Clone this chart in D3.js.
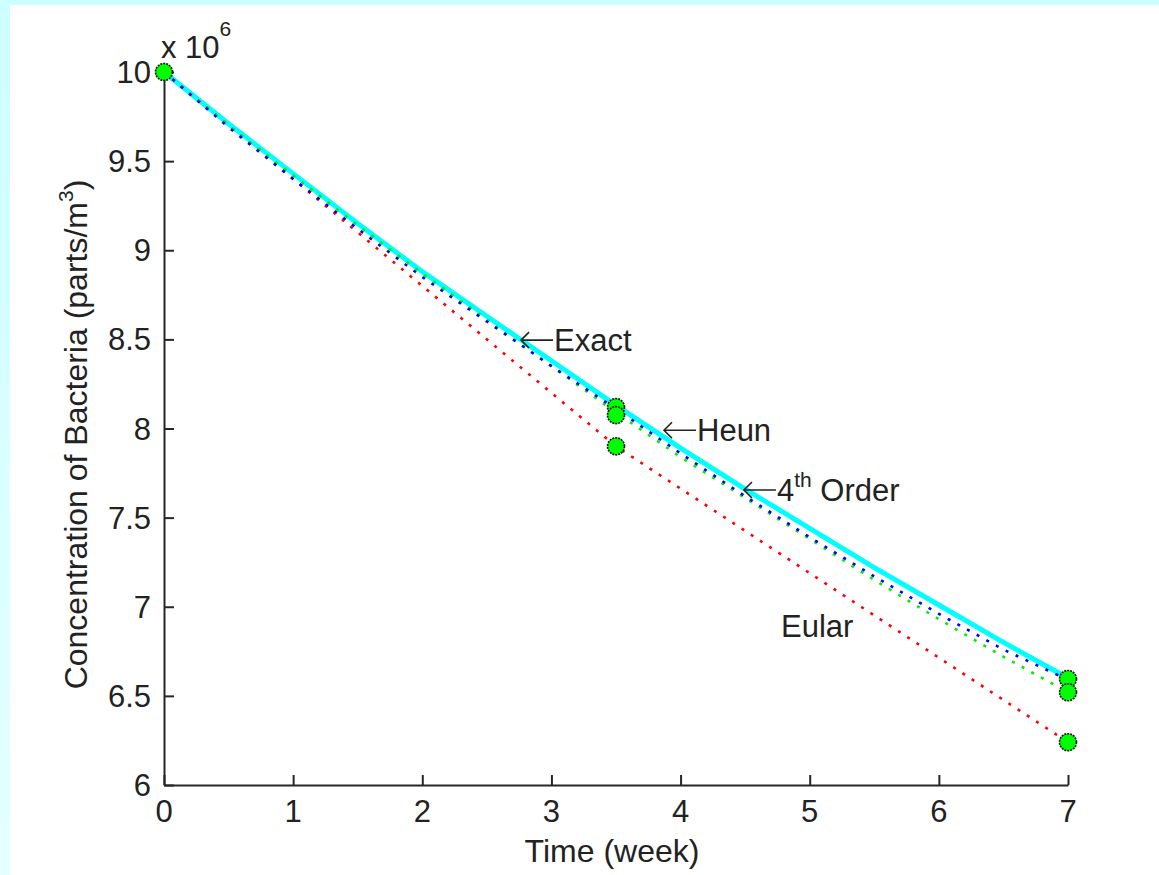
<!DOCTYPE html>
<html>
<head>
<meta charset="utf-8">
<style>
  *{margin:0;padding:0;box-sizing:border-box}
  body{width:1159px;height:875px;overflow:hidden;background:#fff}
  svg{display:block}
  text{font-family:"Liberation Sans",Arial,sans-serif;fill:#222}
</style>
</head>
<body>
<svg id="g"></svg>
<script src="https://cdn.jsdelivr.net/npm/d3@7/dist/d3.min.js"></script>
<script>
// values in units of 1e6 parts/m^3, time in weeks
const tFine   = [0, 0.5, 1, 1.5, 2, 2.5, 3, 3.5, 4, 4.5, 5, 5.5, 6, 6.5, 7];
const exact   = [10, 9.71, 9.43, 9.15, 8.88, 8.63, 8.38, 8.13, 7.89, 7.66, 7.44, 7.22, 7.01, 6.80, 6.60];
const order4  = [10, 9.69, 9.40, 9.12, 8.85, 8.60, 8.35, 8.11, 7.86, 7.62, 7.39, 7.17, 6.96, 6.76, 6.59];
const heun    = [10, 9.70, 9.42, 9.14, 8.87, 8.61, 8.35, 8.09, 7.84, 7.61, 7.38, 7.15, 6.93, 6.72, 6.52];
const tStep   = [0, 3.5, 7];
const euler   = [10, 7.90, 6.24];
// step results shown as markers
const markT   = [0, 3.5, 3.5, 3.5, 7, 7, 7];
const markV   = [10, 8.12, 8.075, 7.90, 6.595, 6.52, 6.24];
const xTicks  = [0, 1, 2, 3, 4, 5, 6, 7];
const yTicks  = [6, 6.5, 7, 7.5, 8, 8.5, 9, 9.5, 10];
// annotations: [t, value, arrow?, text, superscript, tail]
const notes = [
  [2.757, 8.496, true,  'Exact', '', ''],
  [3.864, 7.990, true,  'Heun', '', ''],
  [4.483, 7.655, true,  '4', 'th', ' Order'],
  [4.778, 6.890, false, 'Eular', '', '']
];

const W = 1159, H = 875;
const FS = 31;
const svg = d3.select('#g').attr('width', W).attr('height', H);

// light cyan frame
const defs = svg.append('defs');
const grad = defs.append('linearGradient').attr('id', 'bg').attr('x1', 0).attr('y1', 0).attr('x2', 0).attr('y2', 1);
grad.append('stop').attr('offset', '0%').attr('stop-color', '#ccffff');
grad.append('stop').attr('offset', '100%').attr('stop-color', '#e4ffff');
svg.append('rect').attr('width', W).attr('height', H).attr('fill', 'url(#bg)');
svg.append('rect').attr('x', 10).attr('y', 5).attr('width', W - 10).attr('height', H - 5).attr('fill', '#fff');

const x = d3.scaleLinear().domain([0, 7]).range([164, 1068]);
const y = d3.scaleLinear().domain([6, 10]).range([785, 72]);

// axes (ticks pointing inward, no box)
const gx = svg.append('g').attr('transform', `translate(0,${y(6)})`)
  .call(d3.axisTop(x).tickValues(xTicks).tickSize(10).tickSizeOuter(0).tickFormat(''));
const gy = svg.append('g').attr('transform', `translate(${x(0)},0)`)
  .call(d3.axisRight(y).tickValues(yTicks).tickSize(10).tickSizeOuter(0).tickFormat(''));
[gx, gy].forEach(g => {
  g.select('.domain').attr('stroke', '#262626').attr('stroke-width', 2);
  g.selectAll('.tick line').attr('stroke', '#262626').attr('stroke-width', 2);
});

svg.append('g').selectAll('text').data(xTicks).enter().append('text')
  .attr('x', d => x(d)).attr('y', 822).attr('text-anchor', 'middle')
  .attr('font-size', FS).text(d => d);
svg.append('g').selectAll('text').data(yTicks).enter().append('text')
  .attr('x', 151).attr('y', d => y(d) + 11).attr('text-anchor', 'end')
  .attr('font-size', FS).text(d => d);

// exponent label
const ex = svg.append('text').attr('x', 161).attr('y', 58).attr('font-size', FS);
ex.append('tspan').text('x 10');
ex.append('tspan').attr('font-size', 21).attr('dy', -22).text('6');

// axis titles
svg.append('text').attr('x', x(3.5) - 4).attr('y', 862).attr('text-anchor', 'middle')
  .attr('font-size', 32).text('Time (week)');
const yl = svg.append('text').attr('transform', `translate(87,${(y(6) + y(10)) / 2 + 6}) rotate(-90)`)
  .attr('text-anchor', 'middle').attr('font-size', 32);
yl.append('tspan').text('Concentration of Bacteria (parts/m');
yl.append('tspan').attr('font-size', 21).attr('dy', -14).text('3');
yl.append('tspan').attr('dy', 14).text(')');

// curves
const line = d3.line().x(d => x(d[0])).y(d => y(d[1]));
const zip = (ts, vs) => ts.map((t, i) => [t, vs[i]]);

svg.append('path').datum(zip(tFine, exact)).attr('d', line)
  .attr('fill', 'none').attr('stroke', '#00ffff').attr('stroke-width', 5);
[[zip(tStep, euler), '#ff0000'], [zip(tFine, heun), '#00ee00'], [zip(tFine, order4), '#0000ff']]
  .forEach(([data, col]) => {
    svg.append('path').datum(data).attr('d', line)
      .attr('fill', 'none').attr('stroke', col).attr('stroke-width', 2.6)
      .attr('stroke-dasharray', '3 8');
  });

// markers
svg.append('g').selectAll('circle').data(markT.map((t, i) => [t, markV[i]])).enter()
  .append('circle').attr('cx', d => x(d[0])).attr('cy', d => y(d[1])).attr('r', 8.5)
  .attr('fill', '#00ff00').attr('stroke', '#111').attr('stroke-width', 1.6)
  .attr('stroke-dasharray', '2 1');

// annotations (arrow drawn as a thin leftward arrow before the text)
notes.forEach(([t, v, arrow, a, sup, tail]) => {
  const px = x(t), py = y(v);
  let tx0 = px;
  if (arrow) {
    const g = svg.append('g').attr('stroke', '#222').attr('stroke-width', 1.6).attr('fill', 'none');
    g.append('path').attr('d', `M${px + 1},${py} L${px + 33},${py}`);
    g.append('path').attr('d', `M${px + 9},${py - 8} L${px + 1},${py} L${px + 9},${py + 8}`);
    tx0 = px + 34;
  }
  const tx = svg.append('text').attr('x', tx0).attr('y', py + 11).attr('font-size', FS);
  tx.append('tspan').text(a);
  if (sup) {
    tx.append('tspan').attr('font-size', 21).attr('dy', -14).text(sup);
    tx.append('tspan').attr('dy', 14).text(tail);
  }
});
</script>
</body>
</html>
